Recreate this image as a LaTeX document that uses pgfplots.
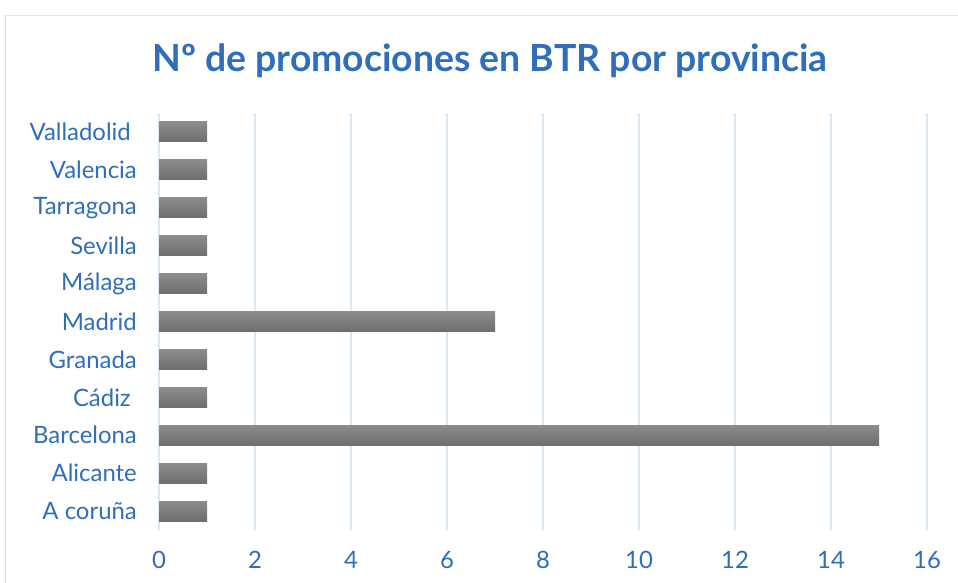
\documentclass[border=0pt]{standalone}
\usepackage{pgfplots}
\pgfplotsset{compat=1.18}
\usepackage{fontspec}
\setmainfont{Lato}
\definecolor{txtblue}{RGB}{47,110,186}
\definecolor{gridblue}{RGB}{218,231,245}
\definecolor{framec}{RGB}{218,227,240}
\begin{document}
\begin{tikzpicture}
\useasboundingbox (0bp,0bp) rectangle (958bp,583bp);
\fill[white] (0bp,0bp) rectangle (958bp,583bp);
\draw[framec, line width=1.5bp] (5.5bp,0bp) -- (5.5bp,567.5bp) -- (958bp,567.5bp);
\node[text=txtblue, font=\fontsize{37.5}{44}\selectfont\bfseries] at (490bp,522bp) {Nº de promociones en BTR por provincia};
\begin{axis}[
  at={(159bp,53bp)}, anchor=south west,
  scale only axis, width=768bp, height=417bp,
  xmin=0, xmax=16, ymin=-0.5, ymax=10.5,
  xtick={0,2,...,16},
  ytick={0,...,10},
  yticklabels={A coruña, Alicante, Barcelona, {Cádiz\kern6bp}, Granada, Madrid, Málaga, Sevilla, Tarragona, Valencia, {Valladolid\kern6bp}},
  axis line style={draw=none},
  major tick length=0pt,
  xmajorgrids,
  grid style={gridblue, line width=1.5bp},
  tick label style={text=txtblue, font=\fontsize{24}{28}\selectfont},
  yticklabel style={anchor=east, inner sep=0pt, xshift=-22bp},
  xticklabel style={anchor=center, inner sep=0pt, yshift=-30bp},
  /pgf/number format/assume math mode=true,
  xbar, bar width=20bp, bar shift=0pt,
  every axis plot/.append style={draw=none, top color=black!45, bottom color=black!57},
  clip=false,
]
\addplot coordinates {(1,0)};
\addplot coordinates {(1,1)};
\addplot coordinates {(15,2)};
\addplot coordinates {(1,3)};
\addplot coordinates {(1,4)};
\addplot coordinates {(7,5)};
\addplot coordinates {(1,6)};
\addplot coordinates {(1,7)};
\addplot coordinates {(1,8)};
\addplot coordinates {(1,9)};
\addplot coordinates {(1,10)};
\end{axis}
\end{tikzpicture}
\end{document}
